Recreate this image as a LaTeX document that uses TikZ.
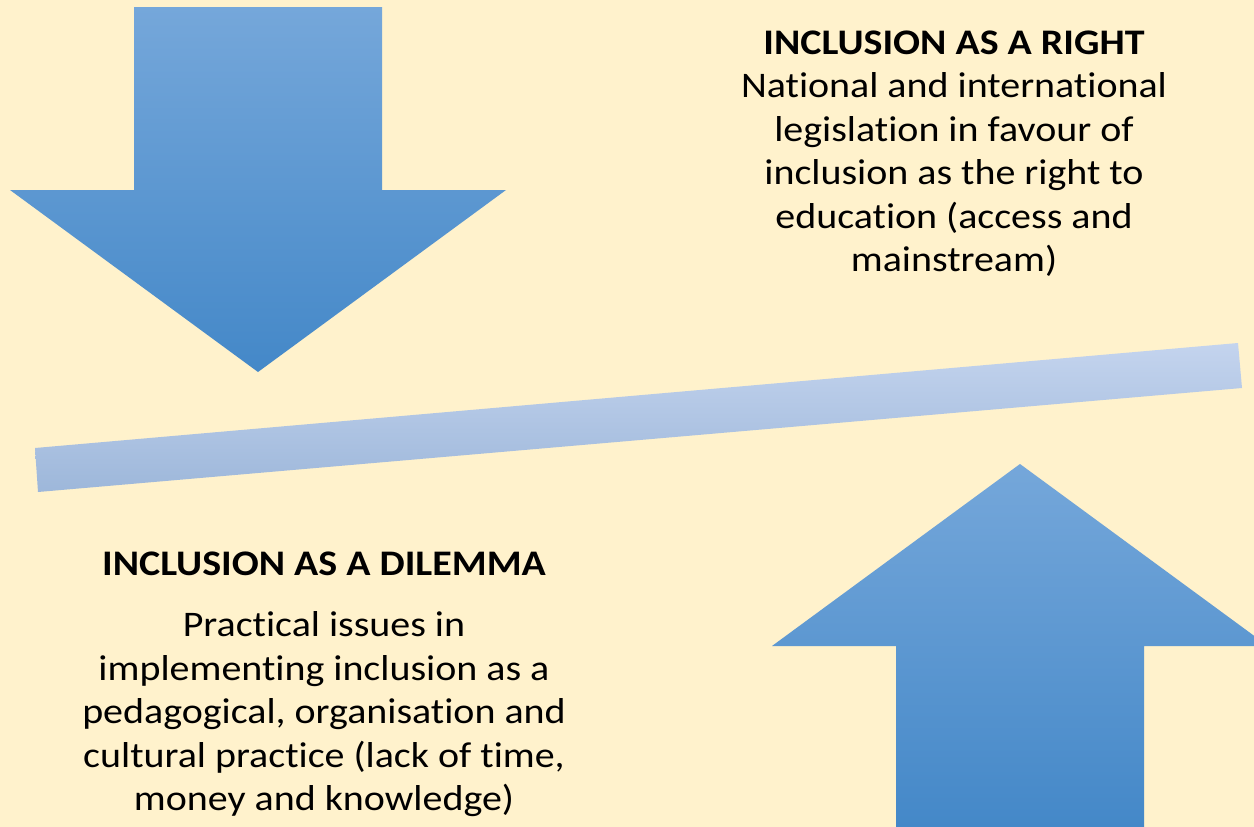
\documentclass[tikz,border=0pt]{standalone}
\usepackage{fontspec}
\setmainfont{Carlito}[FakeStretch=1.11,Ligatures=NoCommon]
\definecolor{bg}{HTML}{FFF2CC}
\definecolor{arrTop}{HTML}{75A7DA}
\definecolor{arrMid}{HTML}{579BDA}
\definecolor{arrBot}{HTML}{4488C8}
\definecolor{barTop}{HTML}{C4D4EE}
\definecolor{barMid}{HTML}{B4CAEA}
\definecolor{barBot}{HTML}{9DB7DA}
\tikzset{
  arrowshape/.style={top color=arrTop, middle color=arrMid, bottom color=arrBot, draw=none},
  barshape/.style={top color=barTop, middle color=barMid, bottom color=barBot, draw=none},
  txt/.style={inner sep=0pt, align=center, text=black, font=\fontsize{36}{43.5}\selectfont}
}
\begin{document}
\begin{tikzpicture}[x=1pt,y=-1pt]
\fill[bg] (0,0) rectangle (1254,827);
\useasboundingbox (0,0) rectangle (1254,827);
% down arrow
\shade[arrowshape] (134,7) -- (382,7) -- (382,190) -- (506,190) -- (258,372) -- (10,190) -- (134,190) -- cycle;
% up arrow
\begin{scope}
\clip (0,0) rectangle (1254,827);
\shade[arrowshape] (896,827) -- (896,646) -- (772,646) -- (1020,464) -- (1268,646) -- (1144,646) -- (1144,827) -- cycle;
\end{scope}
% bar
\shade[barshape] (35,448) -- (1238,343) -- (1242,388) -- (38,492) -- cycle;
% texts (base anchor = baseline of the last line)
\node[txt, anchor=base] (right) at (954,271.7) {\textbf{INCLUSION AS A RIGHT}\\National and international\\legislation in favour of\\inclusion as the right to\\education (access and\\mainstream)};
\node[txt, anchor=base] (dilemmatitle) at (324,575) {\textbf{INCLUSION AS A DILEMMA}};
\node[txt, anchor=base] (dilemma) at (324,810.7) {Practical issues in\\implementing inclusion as a\\pedagogical, organisation and\\cultural practice (lack of time,\\money and knowledge)};
\end{tikzpicture}
\end{document}
